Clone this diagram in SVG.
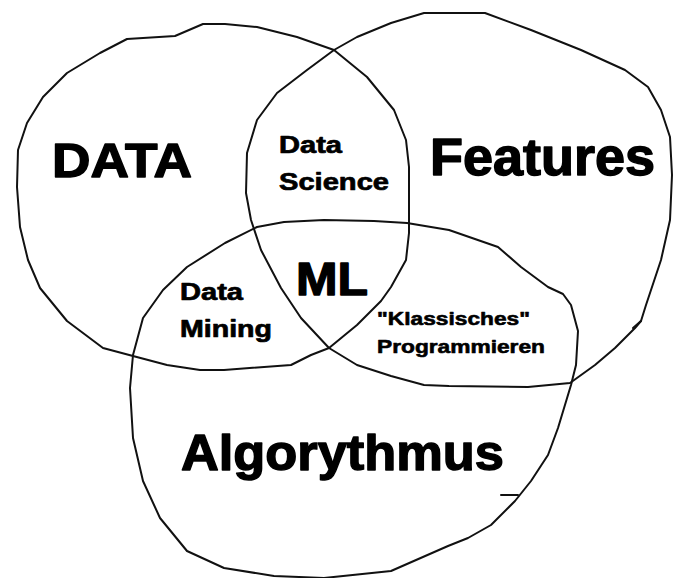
<svg xmlns="http://www.w3.org/2000/svg" width="673" height="578" viewBox="0 0 673 578">
<style>
.set{fill:none;stroke:#111;stroke-width:2;stroke-linejoin:round;stroke-linecap:round}
text{font-family:"Liberation Sans",Arial,sans-serif;font-weight:bold;fill:#000;stroke:#000;stroke-linejoin:round}
.big{font-size:48px;stroke-width:1.4px}
.mid{font-size:46px;stroke-width:1.4px}
.small{font-size:23px;stroke-width:0.7px}
.tiny{font-size:19px;stroke-width:0.6px}
</style>
<rect width="673" height="578" fill="#fff"/>
<g id="set-data">
<path class="set" d="M18,150 L27,123 L43,97 L67,73 L100,53 L127,39 L175,36 L182,33 L203,24 L225,24 L257,27 L297,37 L334,50 L367,77 L394,110 L406,140 L409,167 L409,200 L409,233 L406,260 L391,287 L381,301 L357,325 L329,348 L311,355 L291,365 L224,370 L200,370 L167,365 L133,356 L103,348 L67,321 L40,288 L28,260 L20,227 L17,187 Z"/>
<text class="big" x="52" y="177" textLength="140" lengthAdjust="spacingAndGlyphs">DATA</text>
</g>
<g id="set-features">
<path class="set" d="M424,13 L449,13 L485,13 L531,30 L581,50 L625,70 L648,87 L661,110 L670,137 L672,175 L670,220 L661,260 L651,290 L646,305 L641,321 L635,328 L615,348 L595,365 L570,383 L528,387 L449,386 L424,385 L391,376 L357,365 L329,348 L301,318 L281,288 L261,250 L251,220 L246,193 L247,153 L257,120 L277,93 L307,70 L334,50 L357,37 L391,23 Z"/>
<path class="set" d="M633,328 L641,321"/>
<text class="big" x="430" y="175" style="font-size:51px" textLength="225" lengthAdjust="spacingAndGlyphs">Features</text>
</g>
<g id="set-algorithm">
<path class="set" d="M163,290 L187,267 L225,243 L257,227 L284,222 L324,220 L374,221 L407,223 L449,230 L498,247 L521,267 L548,287 L563,294 L571,305 L578,331 L576,365 L571,385 L558,428 L548,455 L531,481 L515,501 L491,525 L468,538 L448,546 L391,571 L324,578 L274,576 L224,568 L187,551 L160,518 L143,481 L133,438 L130,388 L133,355 L143,318 Z"/>
<path class="set" d="M501,495 L518,495"/>
<text class="big" x="181" y="470" style="font-size:50px" textLength="323" lengthAdjust="spacingAndGlyphs">Algorythmus</text>
</g>
<g id="region-data-science">
<text class="small" x="279" y="153" textLength="63" lengthAdjust="spacingAndGlyphs">Data</text>
<text class="small" x="279" y="190" textLength="110" lengthAdjust="spacingAndGlyphs">Science</text>
</g>
<g id="region-data-mining">
<text class="small" x="180" y="300" textLength="63" lengthAdjust="spacingAndGlyphs">Data</text>
<text class="small" x="180" y="337" textLength="92" lengthAdjust="spacingAndGlyphs">Mining</text>
</g>
<g id="region-ml">
<text class="mid" x="296" y="295" textLength="72" lengthAdjust="spacingAndGlyphs">ML</text>
</g>
<g id="region-klassisches">
<text class="tiny" x="377" y="325" textLength="153" lengthAdjust="spacingAndGlyphs">"Klassisches"</text>
<text class="tiny" x="377" y="353" textLength="168" lengthAdjust="spacingAndGlyphs">Programmieren</text>
</g>
<g id="connectors"></g>
</svg>
